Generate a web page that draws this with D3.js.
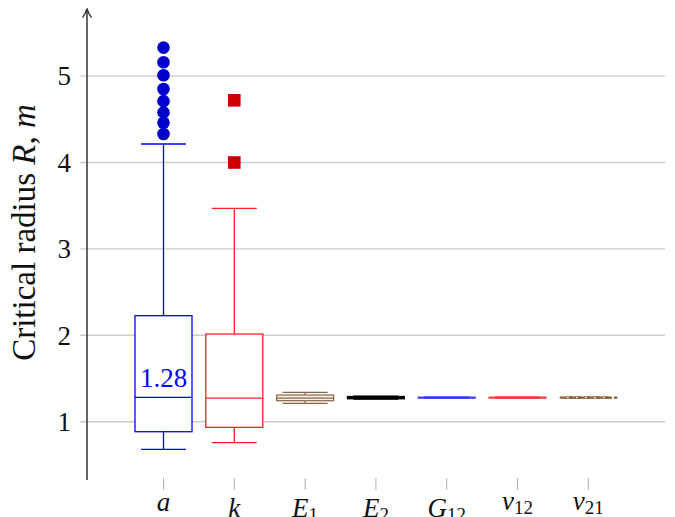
<!DOCTYPE html>
<html>
<head>
<meta charset="utf-8">
<script src="https://cdn.jsdelivr.net/npm/d3@7"></script>
<style>
  html, body { margin: 0; padding: 0; background: #fff; }
  svg { display: block; }
</style>
</head>
<body>
<svg id="chart" width="675" height="517"></svg>
<script>
// ---- data ----
const categories = ["a", "k", "E1", "E2", "G12", "ν12", "ν21"];
const labelMain = ["a", "k", "E", "E", "G", "ν", "ν"];
const labelSub = ["", "", "1", "2", "12", "12", "21"];
const whiskerLow = [0.68, 0.757, 1.213, 1.262, 1.270, 1.270, 1.270];
const q1 = [0.884, 0.935, 1.243, 1.265, 1.272, 1.272, 1.272];
const median = [1.282, 1.274, 1.274, 1.278, 1.278, 1.278, 1.278];
const q3 = [2.227, 2.015, 1.309, 1.292, 1.285, 1.285, 1.285];
const whiskerHigh = [4.214, 3.47, 1.340, 1.295, 1.287, 1.287, 1.287];
const outliers = [
  [4.33, 4.46, 4.58, 4.71, 4.85, 5.01, 5.16, 5.33],
  [4.0, 4.72],
  [], [], [], [], []
];
const yTicks = [1, 2, 3, 4, 5];
const medianLabel = "1.28";

// ---- styles ----
const FONT = "\"Liberation Serif\", \"Times New Roman\", serif";
const strokeColors = ["#0000ff", "#ff2020", "#8a6440", "#000000", "#3333ff", "#ff3333", "#8a6440"];
const fillColors = ["#ffffff", "#ffffff", "#f7f0e6", "#000000", "#ffffff", "#ffffff", "#ffffff"];
const strokeWidths = [1.3, 1.3, 1.2, 1.2, 1.0, 1.0, 1.2];
const dashes = [null, null, null, null, null, null, "7,2"];
const outlierColors = ["#0000cc", "#cc0000"];

const svg = d3.select("#chart");

const y = d3.scaleLinear().domain([1, 5]).range([421.7, 76.1]);
const x = d3.scalePoint().domain(categories).range([163.5, 588.3]);
const boxW = 57, capW = 45;
const axisX = 87, gridLeft = 80, gridRight = 665;

// grid lines
svg.append("g").selectAll("line").data(yTicks).join("line")
  .attr("x1", gridLeft).attr("x2", gridRight)
  .attr("y1", d => y(d)).attr("y2", d => y(d))
  .attr("stroke", "#cccccc").attr("stroke-width", 1.4);

// y tick labels
svg.append("g").selectAll("text").data(yTicks).join("text")
  .attr("x", 71).attr("y", d => y(d) + 9.3)
  .attr("text-anchor", "end")
  .style("font-family", FONT)
  .attr("font-size", 27)
  .attr("fill", "#111")
  .text(d => d);

// y axis line with arrow
const yBottom = y(0.325), yTop = y(5.78);
svg.append("line")
  .attr("x1", axisX).attr("x2", axisX)
  .attr("y1", yBottom).attr("y2", yTop)
  .attr("stroke", "#333").attr("stroke-width", 1.5);
svg.append("path")
  .attr("d", `M${axisX - 4.5},${yTop + 9} Q${axisX - 1},${yTop + 4} ${axisX},${yTop} Q${axisX + 1},${yTop + 4} ${axisX + 4.5},${yTop + 9}`)
  .attr("fill", "none").attr("stroke", "#333").attr("stroke-width", 1.4);

// y axis title
const yTitle = svg.append("text")
  .attr("transform", `translate(35,${(103 + 362) / 2}) rotate(-90)`)
  .attr("text-anchor", "middle")
  .style("font-family", FONT)
  .attr("font-size", 33)
  .attr("fill", "#111");
yTitle.append("tspan").text("Critical radius ");
yTitle.append("tspan").attr("font-style", "italic").text("R");
yTitle.append("tspan").text(", ");
yTitle.append("tspan").attr("font-style", "italic").text("m");

// x ticks
svg.append("g").selectAll("line").data(categories).join("line")
  .attr("x1", d => x(d)).attr("x2", d => x(d))
  .attr("y1", yBottom - 2).attr("y2", yBottom + 10)
  .attr("stroke", "#b0b0b0").attr("stroke-width", 1);

// x labels (top-anchored like TeX north anchor)
const baselines = { "a": 511, "k": 517, "E": 517, "G": 517, "ν": 510 };
const xl = svg.append("g").selectAll("text").data(categories).join("text")
  .attr("x", d => x(d))
  .attr("y", (d, i) => baselines[labelMain[i]])
  .attr("text-anchor", "middle")
  .style("font-family", FONT)
  .attr("font-size", 27)
  .attr("fill", "#111");
xl.each(function (d, i) {
  const t = d3.select(this);
  t.append("tspan").attr("font-style", "italic").text(labelMain[i]);
  if (labelSub[i]) t.append("tspan").attr("font-size", 19).attr("dy", 4).text(labelSub[i]);
});

// boxes
const boxes = svg.append("g").selectAll("g").data(categories).join("g");
boxes.each(function (d, i) {
  const g = d3.select(this);
  const cx = x(d);
  const col = strokeColors[i], sw = strokeWidths[i], da = dashes[i];
  const line = (x1, y1, x2, y2) => g.append("line")
    .attr("x1", x1).attr("y1", y1).attr("x2", x2).attr("y2", y2)
    .attr("stroke", col).attr("stroke-width", sw).attr("stroke-dasharray", da);
  // whiskers
  line(cx, y(q3[i]), cx, y(whiskerHigh[i]));
  line(cx, y(q1[i]), cx, y(whiskerLow[i]));
  line(cx - capW / 2, y(whiskerHigh[i]), cx + capW / 2, y(whiskerHigh[i]));
  line(cx - capW / 2, y(whiskerLow[i]), cx + capW / 2, y(whiskerLow[i]));
  // box
  g.append("rect")
    .attr("x", cx - boxW / 2).attr("width", boxW)
    .attr("y", y(q3[i])).attr("height", y(q1[i]) - y(q3[i]))
    .attr("fill", fillColors[i]).attr("stroke", col).attr("stroke-width", sw)
    .attr("stroke-dasharray", da);
  // median
  line(cx - boxW / 2, y(median[i]), cx + boxW / 2, y(median[i]));
});

// outliers
svg.append("g").selectAll("circle").data(outliers[0]).join("circle")
  .attr("cx", x(categories[0])).attr("cy", d => y(d)).attr("r", 6.3)
  .attr("fill", outlierColors[0]);
svg.append("g").selectAll("rect").data(outliers[1]).join("rect")
  .attr("x", x(categories[1]) - 6.3).attr("y", d => y(d) - 6.3)
  .attr("width", 12.6).attr("height", 12.6)
  .attr("fill", outlierColors[1]);

// median annotation
svg.append("text")
  .attr("x", x(categories[0])).attr("y", y(median[0]) - 10)
  .attr("text-anchor", "middle")
  .style("font-family", FONT)
  .attr("font-size", 27)
  .attr("fill", "#0000ff")
  .text(medianLabel);
</script>
</body>
</html>
